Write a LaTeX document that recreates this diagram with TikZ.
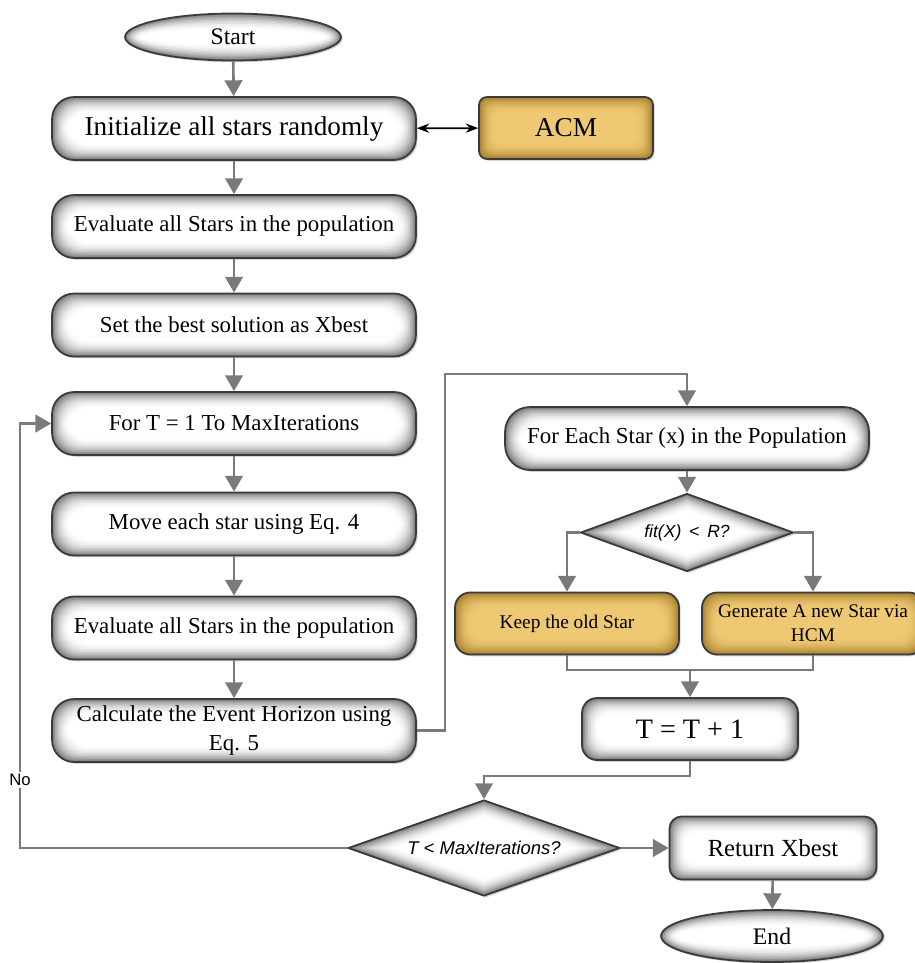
\documentclass[tikz,border=0pt]{standalone}
\usepackage{fontspec}
\setmainfont{Liberation Serif}
\newfontfamily\sansf{Liberation Sans}
\usetikzlibrary{shapes.geometric,arrows.meta,shadows,calc}
\definecolor{edgeG}{HTML}{7E7E7E}
\definecolor{goldE}{HTML}{A88230}
\definecolor{goldC}{HTML}{EEC872}
\definecolor{lineG}{HTML}{7A7A7A}
\definecolor{borderC}{HTML}{3A3A3A}
\begin{document}
\begin{tikzpicture}[x=0.02cm,y=-0.02cm,
  vig/.style n args={3}{path picture={
    \foreach \k in {0,...,11}{
      \pgfmathsetmacro{\vv}{100*(1-\k/11)^2}
      \fill[#1!\vv!#2, draw=none, rounded corners=#3]
        ([xshift=\k*0.85pt,yshift=-\k*0.85pt]path picture bounding box.north west)
        rectangle ([xshift=-\k*0.85pt,yshift=\k*0.85pt]path picture bounding box.south east);
    }}},
  dvig/.style={path picture={
    \foreach \k in {0,...,11}{
      \pgfmathsetmacro{\vv}{100*(1-\k/11)^2}
      \pgfmathsetmacro{\ff}{1-\k*#1}
      \fill[edgeG!\vv!white, draw=none]
        ($(path picture bounding box.center)!\ff!(path picture bounding box.north)$) --
        ($(path picture bounding box.center)!\ff!(path picture bounding box.east)$) --
        ($(path picture bounding box.center)!\ff!(path picture bounding box.south)$) --
        ($(path picture bounding box.center)!\ff!(path picture bounding box.west)$) -- cycle;
    }}},
  evig/.style={path picture={
    \foreach \k in {0,...,11}{
      \pgfmathsetmacro{\vv}{100*(1-\k/11)^2}
      \fill[edgeG!\vv!white, draw=none]
        let \p1=($(path picture bounding box.north east)-(path picture bounding box.center)$) in
        (path picture bounding box.center) ellipse [x radius={\x1-\k*0.85pt}, y radius={\y1-\k*0.85pt}];
    }}},
  base/.style={draw=borderC, line width=1pt, align=center, inner sep=2pt,
    drop shadow={shadow xshift=1pt, shadow yshift=-1pt, opacity=0.35}},
  rbox/.style={base, rectangle, rounded corners=#1, vig={edgeG}{white}{#1}},
  gbox/.style={base, rectangle, rounded corners=#1, vig={goldE}{goldC}{#1}},
  term/.style={base, ellipse, evig},
  dec/.style={base, diamond, dvig=#1, inner sep=0pt},
  wide/.style={minimum width=7.28cm, minimum height=1.26cm},
  f13/.style={font=\fontsize{13}{16}\selectfont},
  arr/.style={draw=lineG, line width=1.5pt, -{Triangle[length=9pt,width=10pt]}},
  ln/.style={draw=lineG, line width=1.5pt},
]
\useasboundingbox (0,0) rectangle (915,963);

\node[term, minimum width=4.32cm, minimum height=0.94cm, font=\fontsize{13.5}{16}\selectfont] (start) at (233,37) {Start};
\node[rbox=0.44cm, wide, font=\fontsize{15.5}{18}\selectfont] (init) at (234,128.5) {Initialize all stars randomly};
\node[gbox=0.16cm, minimum width=3.48cm, minimum height=1.24cm, font=\fontsize{15.5}{18}\selectfont] (acm) at (566,128) {ACM};
\node[rbox=0.44cm, wide, f13] (eval1) at (234,226.5) {Evaluate all Stars in the population};
\node[rbox=0.44cm, wide, f13] (best) at (234,325) {Set the best solution as Xbest};
\node[rbox=0.44cm, wide, f13] (fort) at (234,423.5) {For T = 1 To MaxIterations};
\node[rbox=0.44cm, wide, f13] (move) at (234,524) {Move each star using Eq. 4};
\node[rbox=0.44cm, wide, f13] (eval2) at (234,628) {Evaluate all Stars in the population};
\node[rbox=0.44cm, wide, font=\fontsize{13}{16.5}\selectfont] (calc) at (234,730.5) {Calculate the Event Horizon using\\Eq. 5};

\node[rbox=0.5cm, wide, f13] (foreach) at (687,438.5) {For Each Star (x) in the Population};
\node[dec=0.041, aspect=2.73, minimum width=4.26cm, minimum height=1.56cm, font=\sansf\itshape\fontsize{10}{12}\selectfont] (fit) at (687,532.5) {fit(X)\, <\, R?};
\node[gbox=0.3cm, minimum width=4.48cm, minimum height=1.24cm, font=\fontsize{11}{13.5}\selectfont] (keep) at (567,623.5) {Keep the old Star};
\node[gbox=0.3cm, minimum width=4.44cm, minimum height=1.24cm, font=\fontsize{11}{13.5}\selectfont] (gen) at (813,623.5) {Generate A new Star via\\HCM};
\node[rbox=0.3cm, minimum width=4.32cm, minimum height=1.24cm, font=\fontsize{16}{19}\selectfont] (tinc) at (690,729) {T = T + 1};
\node[dec=0.0334, aspect=2.83, minimum width=5.44cm, minimum height=1.92cm, font=\sansf\itshape\fontsize{10.5}{12}\selectfont] (tmax) at (484,848) {T < MaxIterations?};
\node[rbox=0.24cm, minimum width=4.14cm, minimum height=1.26cm, font=\fontsize{14}{17}\selectfont] (ret) at (773,848) {Return Xbest};
\node[term, minimum width=4.44cm, minimum height=1.04cm, font=\fontsize{13.5}{16}\selectfont] (end) at (772,936) {End};

\coordinate (k1) at (445,374);
\coordinate (m1) at (690,670);
\coordinate (m2) at (484,776);
\coordinate (k2) at (20,423.5);

\draw[arr] (start) -- (init);
\draw[black, line width=1pt, {Stealth[length=7pt]}-{Stealth[length=7pt]}] (init) -- (acm);
\draw[arr] (init) -- (eval1);
\draw[arr] (eval1) -- (best);
\draw[arr] (best) -- (fort);
\draw[arr] (fort) -- (move);
\draw[arr] (move) -- (eval2);
\draw[arr] (eval2) -- (calc);
\draw[arr] (calc.east) -| (k1) -| (foreach.north);
\draw[arr] (foreach) -- (fit);
\draw[arr] (fit.west) -| (keep.north);
\draw[arr] (fit.east) -| (gen.north);
\draw[ln] (keep.south) |- (m1) -| (gen.south);
\draw[arr] (m1) -- (tinc.north);
\draw[arr] (tinc.south) |- (m2) -- (tmax.north);
\draw[arr] (tmax.east) -- (ret.west);
\draw[arr] (ret) -- (end);
\draw[arr] (tmax.west) -| (k2) -- (fort.west);
\node[fill=white, inner sep=1.5pt, font=\sansf\fontsize{9.5}{11}\selectfont] (no) at (20,780) {No};
\end{tikzpicture}
\end{document}
